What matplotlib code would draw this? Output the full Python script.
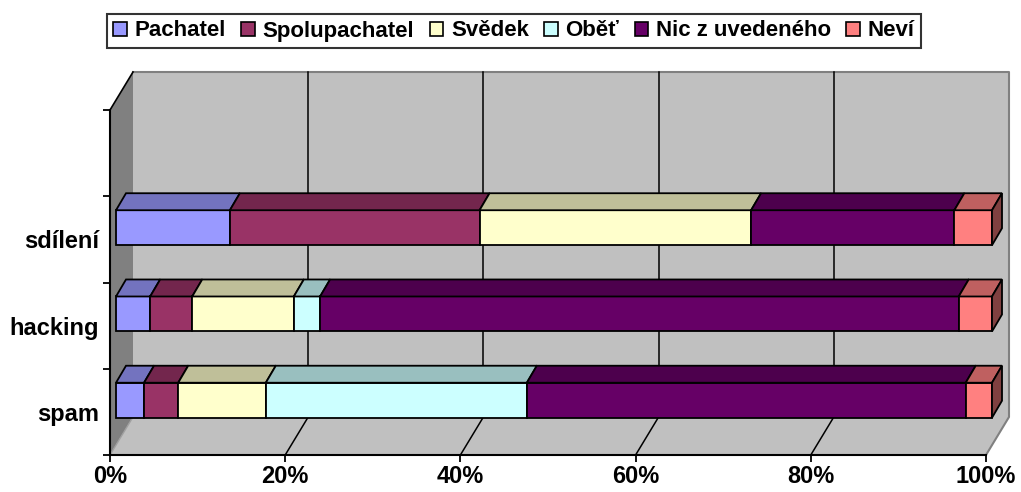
import matplotlib
matplotlib.use('Agg')
import matplotlib.pyplot as plt
import numpy as np
from matplotlib.patches import Polygon, Patch

# ---- data ----
categories = ['spam', 'hacking', 'sdílení']
series = ['Pachatel', 'Spolupachatel', 'Svědek', 'Oběť', 'Nic z uvedeného', 'Neví']
pachatel = [3.2, 3.9, 13.0]
spolupachatel = [3.9, 4.8, 28.5]
svedek = [10.0, 11.6, 31.0]
obet = [29.8, 3.0, 0.0]
nic_z_uvedeneho = [50.1, 72.9, 23.2]
nevi = [3.0, 3.8, 4.3]
colors = ['#9999FF', '#993366', '#FFFFCC', '#CCFFFF', '#660066', '#FF8080']
xticks = [0, 20, 40, 60, 80, 100]
xticklabels = ['0%', '20%', '40%', '60%', '80%', '100%']

values = np.array([pachatel, spolupachatel, svedek, obet, nic_z_uvedeneho, nevi])

plt.rcParams['font.family'] = ['Liberation Sans', 'DejaVu Sans']
plt.rcParams['font.weight'] = 'bold'

W, H = 1021, 492
fig = plt.figure(figsize=(W / 100, H / 100), dpi=100)
# front plane of the 3D box
x0p, x1p, ytop, ybot = 110, 986, 110, 455
ax = fig.add_axes([x0p / W, 1 - ybot / H, (x1p - x0p) / W, (ybot - ytop) / H])
ax.set_xlim(0, 100)
ax.set_ylim(-0.5, 3.5)
ax.set_facecolor('none')

pxx = (x1p - x0p) / 100.0   # px per x unit
pxy = (ybot - ytop) / 4.0   # px per y unit

# depth offsets (px -> data)
WDX, WDY = 23 / pxx, 38 / pxy
BX0, BY0 = 6 / pxx, 0.135
BH = 35 / pxy
BDX, BDY = 10 / pxx, 17 / pxy


def shade(c, f):
    r, g, b = matplotlib.colors.to_rgb(c)
    return (r * f, g * f, b * f)


# walls
ax.add_patch(Polygon([(WDX, -0.5 + WDY), (100 + WDX, -0.5 + WDY), (100 + WDX, 3.5 + WDY), (WDX, 3.5 + WDY)],
                     closed=True, facecolor='#C0C0C0', edgecolor='none', clip_on=False, zorder=1))
ax.add_patch(Polygon([(0, -0.5), (WDX, -0.5 + WDY), (WDX, 3.5 + WDY), (0, 3.5)],
                     closed=True, facecolor='#808080', edgecolor='none', clip_on=False, zorder=1))
ax.add_patch(Polygon([(0, -0.5), (100, -0.5), (100 + WDX, -0.5 + WDY), (WDX, -0.5 + WDY)],
                     closed=True, facecolor='#C0C0C0', edgecolor='none', clip_on=False, zorder=1))
# wall border
ax.plot([WDX, 100 + WDX, 100 + WDX, 100], [3.5 + WDY, 3.5 + WDY, -0.5 + WDY, -0.5],
        color='#808080', lw=1.5, clip_on=False, zorder=1.5)
ax.plot([0, WDX], [-0.5, -0.5 + WDY], color='#A0A0A0', lw=1.0, clip_on=False, zorder=1.5)
ax.plot([0, WDX], [3.5, 3.5 + WDY], color='black', lw=1.2, clip_on=False, zorder=1.5)

# gridlines
for xv in xticks[1:-1]:
    ax.plot([xv + WDX, xv + WDX], [-0.5 + WDY, 3.5 + WDY], color='black', lw=1.1, clip_on=False, zorder=1.6)
    ax.plot([xv, xv + WDX], [-0.5, -0.5 + WDY], color='black', lw=1.1, clip_on=False, zorder=1.6)

# bars
ypos = np.arange(len(categories)) + BY0
lefts = np.zeros(len(categories))
for i, (name, col) in enumerate(zip(series, colors)):
    w = values[i]
    bars = ax.barh(ypos, w, left=lefts + BX0, height=BH, color=col, edgecolor='black', lw=1.3,
                   zorder=3, label=name)
    for b_ in bars:
        b_.set_clip_on(False)
    for j in range(len(categories)):
        if w[j] <= 0:
            continue
        l = lefts[j] + BX0
        r = l + w[j]
        t = ypos[j] + BH / 2
        ax.add_patch(Polygon([(l, t), (r, t), (r + BDX, t + BDY), (l + BDX, t + BDY)], closed=True,
                             facecolor=shade(col, 0.75), edgecolor='black', lw=1.3, zorder=3,
                             clip_on=False, joinstyle='miter'))
        if i == len(series) - 1:
            b = ypos[j] - BH / 2
            ax.add_patch(Polygon([(r, b), (r, t), (r + BDX, t + BDY), (r + BDX, b + BDY)], closed=True,
                                 facecolor=shade(col, 0.5), edgecolor='black', lw=1.3, zorder=3,
                                 clip_on=False, joinstyle='miter'))
    lefts = lefts + w

# axes, ticks
for s in ['top', 'right']:
    ax.spines[s].set_visible(False)
ax.spines['left'].set_linewidth(1.5)
ax.spines['bottom'].set_linewidth(1.5)
ax.spines['left'].set_zorder(2)
ax.spines['bottom'].set_zorder(2)
ax.set_xticks(xticks)
ax.set_xticklabels(xticklabels)
ax.set_yticks([-0.5, 0.5, 1.5, 2.5, 3.5])
ax.set_yticklabels([])
ax.set_yticks(np.arange(len(categories)), minor=True)
ax.set_yticklabels(categories, minor=True)
ax.tick_params(axis='x', direction='out', length=5, width=1.3, pad=2, labelsize=17)
ax.tick_params(axis='y', which='major', direction='out', length=5, width=1.3)
ax.tick_params(axis='y', which='minor', length=0, pad=8, labelsize=17)
ax.tick_params(axis='x', which='minor', length=0)

handles = [Patch(facecolor=c, edgecolor='black', lw=1.2, label=n) for n, c in zip(series, colors)]
leg = fig.legend(handles=handles, loc='center', bbox_to_anchor=(514 / W, 1 - 31 / H), ncol=6,
                 frameon=True, fancybox=False, edgecolor='black', fontsize=16,
                 handlelength=0.6, handleheight=0.6, handletextpad=0.35, columnspacing=0.7,
                 borderpad=0.3, borderaxespad=0)
leg.get_frame().set_linewidth(1.5)

fig.savefig('out.png', dpi=100)
